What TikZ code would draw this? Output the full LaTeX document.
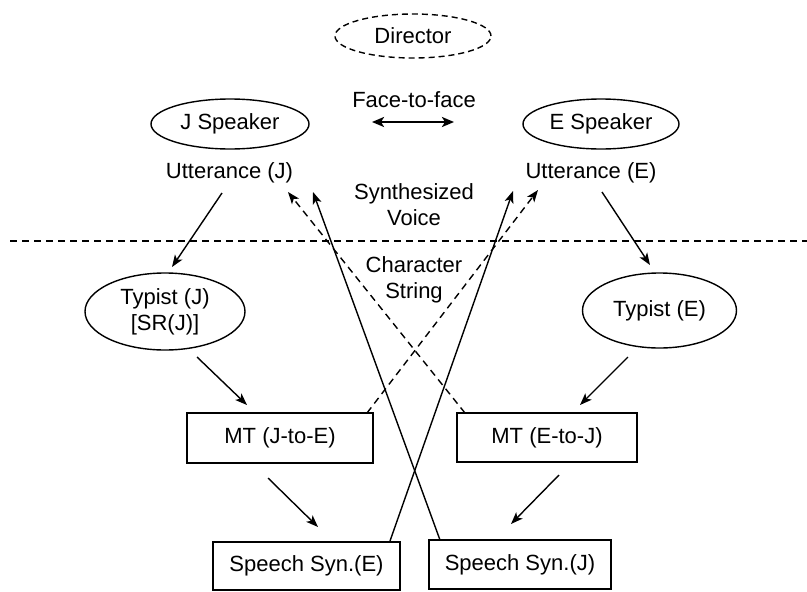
\documentclass[tikz,border=0pt]{standalone}
\usepackage{fontspec}
\setmainfont{Liberation Sans}
\usetikzlibrary{shapes.geometric,arrows.meta}
\begin{document}
\begin{tikzpicture}[x=1pt,y=-1pt,
  txt/.style={font=\fontsize{22}{26}\selectfont, align=center, inner sep=0pt},
  oval/.style={ellipse, draw, line width=1.4pt, inner sep=0pt, txt},
  box/.style={rectangle, draw, line width=1.4pt, inner sep=0pt, txt},
  tip/.style={-{Stealth[length=12pt,width=9pt,inset=3pt]}},
  arr/.style={line width=1.4pt, tip},
  darr/.style={arr, dash pattern=on 7pt off 5pt},
  divider/.style={line width=1.6pt, dash pattern=on 7pt off 5pt}
]
\useasboundingbox (0,0) rectangle (807,592);

% participants
\node[oval, dash pattern=on 6pt off 4pt, minimum width=156pt, minimum height=44pt] (dir) at (413,36) {Director};
\node[txt] (f2f) at (414,100) {Face-to-face};
\coordinate (f2fL) at (372,122);
\coordinate (f2fR) at (454,122);
\draw[line width=2.5pt, {Stealth[length=12pt,width=10pt,inset=3pt]}-{Stealth[length=12pt,width=10pt,inset=3pt]}] (f2fL) -- (f2fR);

\node[oval, minimum width=158pt, minimum height=50pt] (spJ) at (230,124) {J Speaker};
\node[oval, minimum width=156pt, minimum height=50pt] (spE) at (601,124) {E Speaker};
\node[txt] (uttJ) at (229.5,173) {Utterance (J)};
\node[txt] (uttE) at (591,173) {Utterance (E)};

\node[txt] (voice) at (414,205) {Synthesized\\Voice};
\node[txt] (chars) at (414,280) {Character\\String};

% human / machine boundary
\coordinate (divL) at (10,241);
\coordinate (divR) at (807,241);
\draw[divider] (divL) -- (divR);

% processing chain
\node[oval, minimum width=160pt, minimum height=77pt] (tyJ) at (165,311.5) {Typist (J)\\{[SR(J)]}};
\node[oval, minimum width=154pt, minimum height=75pt] (tyE) at (659.5,310.5) {Typist (E)};
\node[box, minimum width=186pt, minimum height=50pt] (mtJE) at (280,438) {MT (J-to-E)};
\node[box, minimum width=180pt, minimum height=49pt] (mtEJ) at (547,437.5) {MT (E-to-J)};
\node[box, minimum width=187pt, minimum height=48pt] (ssE) at (306.5,566) {Speech Syn.(E)};
\node[box, minimum width=182pt, minimum height=49pt] (ssJ) at (520,564.5) {Speech Syn.(J)};

% arrow end points
\coordinate (uJout) at (222,193);   \coordinate (tJin) at (172,267);
\coordinate (uEout) at (602,192);   \coordinate (tEin) at (650,265);
\coordinate (tJout) at (197,357);   \coordinate (mJEin) at (247,405);
\coordinate (tEout) at (628,357);   \coordinate (mEJin) at (580,405);
\coordinate (mJEout) at (268,478);  \coordinate (sEin) at (318,527);
\coordinate (mEJout) at (559,475);  \coordinate (sJin) at (511,524);
\coordinate (sEout) at (390,541);   \coordinate (uEvoice) at (513,191);
\coordinate (sJout) at (440,540);   \coordinate (uJvoice) at (313,192);
\coordinate (mJEstr) at (367,413);  \coordinate (uEstr) at (538,190);
\coordinate (mEJstr) at (465,413);  \coordinate (uJstr) at (288,192);

\draw[arr] (uJout) -- (tJin);
\draw[arr] (uEout) -- (tEin);
\draw[arr] (tJout) -- (mJEin);
\draw[arr] (tEout) -- (mEJin);
\draw[arr] (mJEout) -- (sEin);
\draw[arr] (mEJout) -- (sJin);

% synthesized voice back to the listeners
\draw[arr] (sEout) -- (uEvoice);
\draw[arr] (sJout) -- (uJvoice);

% translated character strings
\draw[darr] (mJEstr) -- (uEstr);
\draw[darr] (mEJstr) -- (uJstr);
\end{tikzpicture}
\end{document}
